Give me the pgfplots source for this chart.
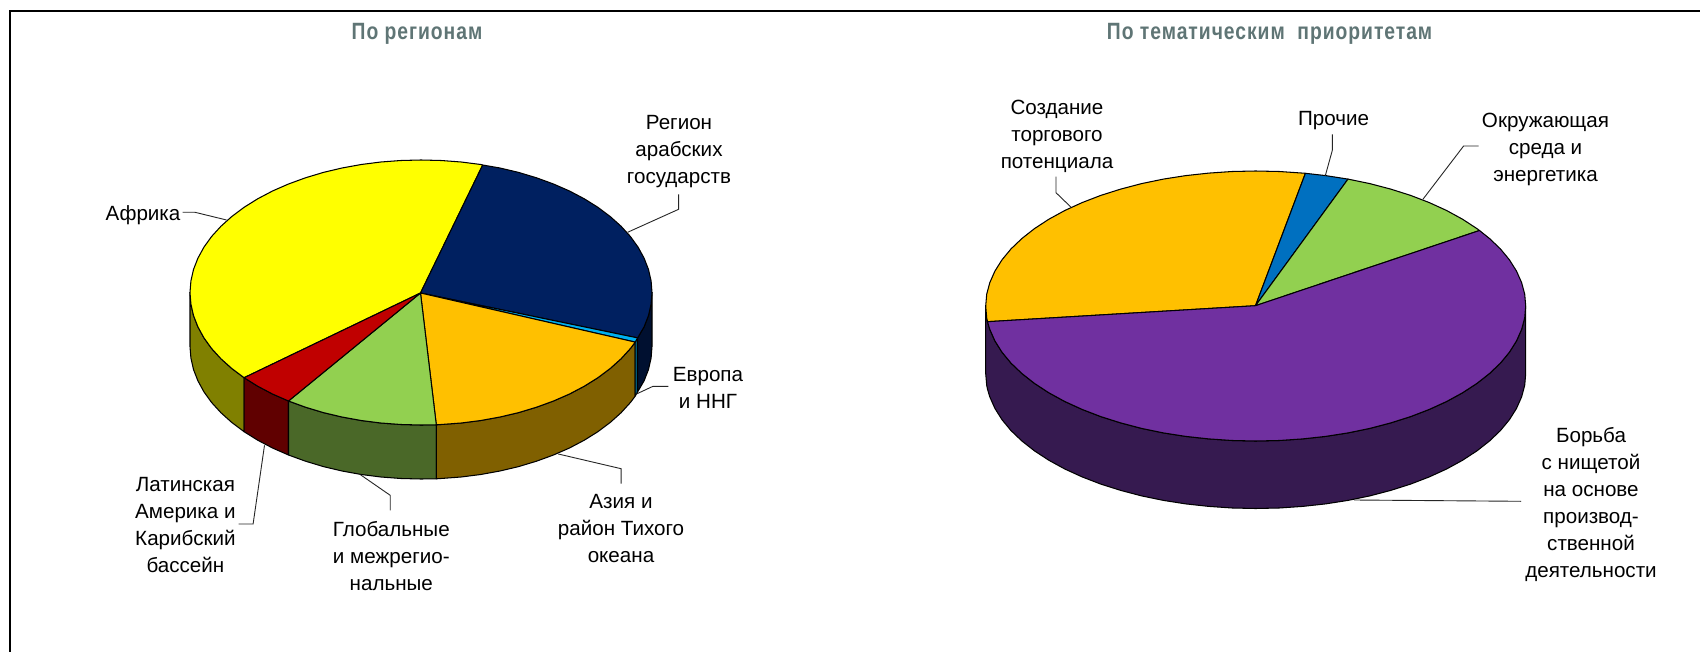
\documentclass[border=0pt]{standalone}
\usepackage{pgfplots}
\pgfplotsset{compat=1.18}
\usepackage{fontspec}
\setmainfont{Liberation Sans}
\newfontfamily\titlefont[LetterSpace=5]{Liberation Sans}
\definecolor{ttl}{HTML}{5F7575}
\definecolor{cYellow}{HTML}{FFFF00}
\definecolor{cNavy}{HTML}{002060}
\definecolor{cCyan}{HTML}{00B0F0}
\definecolor{cOrange}{HTML}{FFC000}
\definecolor{cGreen}{HTML}{92D050}
\definecolor{cRed}{HTML}{C00000}
\definecolor{cBlue}{HTML}{0070C0}
\definecolor{cPurple}{HTML}{7030A0}
\definecolor{dYellow}{HTML}{808000}
\definecolor{dNavy}{HTML}{001030}
\definecolor{dCyan}{HTML}{005878}
\definecolor{dOrange}{HTML}{806000}
\definecolor{dGreen}{HTML}{4A6828}
\definecolor{dRed}{HTML}{600000}
\definecolor{dPurple}{HTML}{361A50}
\tikzset{lbl/.style={font=\fontsize{20.6}{27}\selectfont,align=center,inner sep=0pt,anchor=center,text=black},
 ttlnode/.style={font=\titlefont\bfseries\fontsize{19.3}{23}\selectfont,text=ttl,inner sep=0pt,anchor=center}}
\pgfplotsset{slice/.style={fill=#1,draw=black,line width=1.05pt,line join=round,mark=none},
 lead/.style={draw=black!85,line width=0.9pt,mark=none}}
\begin{document}
\begin{tikzpicture}
\begin{axis}[name=a,scale only axis,width=1700pt,height=652pt,xmin=0,xmax=1700,ymin=0,ymax=652,y dir=reverse,hide axis,clip=false]
\addplot[fill=white,draw=none,mark=none] coordinates {(0,0)(1700,0)(1700,652)(0,652)} --cycle;
% frame
\addplot[black,line width=2.4pt,mark=none] coordinates {(10,652)(10,11)(1700,11)};
% left pie, sides
\addplot[slice=dYellow] coordinates {(190,292.5)(190.9,304)(193.5,315.5)(197.9,326.8)(203.9,337.8)(211.6,348.5)(220.9,358.7)(231.8,368.5)(244.1,377.7)(244.1,431.7)(231.8,422.5)(220.9,412.7)(211.6,402.5)(203.9,391.8)(197.9,380.8)(193.5,369.5)(190.9,358)(190,346.5)} --cycle;
\addplot[slice=dRed] coordinates {(244.1,377.7)(257.7,386.2)(272.5,394)(288.5,401)(288.5,455)(272.5,448)(257.7,440.2)(244.1,431.7)} --cycle;
\addplot[slice=dGreen] coordinates {(288.5,401)(305.5,407.2)(323.4,412.6)(342,417)(361.2,420.5)(380.9,423)(400.9,424.5)(421,425)(436.3,424.8)(436.3,478.8)(421,479)(400.9,478.5)(380.9,477)(361.2,474.5)(342,471)(323.4,466.6)(305.5,461.2)(288.5,455)} --cycle;
\addplot[slice=dOrange] coordinates {(436.3,424.8)(441.1,424.5)(461.1,423)(480.8,420.5)(500,417)(518.6,412.6)(536.5,407.2)(553.5,401)(569.5,394)(584.3,386.2)(597.9,377.7)(610.2,368.5)(621.1,358.7)(630.4,348.5)(635.2,342.1)(635.2,396.1)(630.4,402.5)(621.1,412.7)(610.2,422.5)(597.9,431.7)(584.3,440.2)(569.5,448)(553.5,455)(536.5,461.2)(518.6,466.6)(500,471)(480.8,474.5)(461.1,477)(441.1,478.5)(436.3,478.8)} --cycle;
\addplot[slice=dCyan] coordinates {(635.2,342.1)(637.6,337.9)(637.6,391.9)(635.2,396.1)} --cycle;
\addplot[slice=dNavy] coordinates {(637.6,337.9)(644.1,326.8)(648.5,315.5)(651.1,304)(652,292.5)(652,346.5)(651.1,358)(648.5,369.5)(644.1,380.8)(637.6,391.9)} --cycle;
% left pie, top
\addplot[slice=cYellow] coordinates {(420.5,293)(482.7,165)(480.8,164.5)(461.1,162)(441.1,160.5)(421,160)(400.9,160.5)(380.9,162)(361.2,164.5)(342,168)(323.4,172.4)(305.5,177.8)(288.5,184)(272.5,191)(257.7,198.8)(244.1,207.3)(231.8,216.5)(220.9,226.3)(211.6,236.5)(203.9,247.2)(197.9,258.2)(193.5,269.5)(190.9,281)(190,292.5)(190.9,304)(193.5,315.5)(197.9,326.8)(203.9,337.8)(211.6,348.5)(220.9,358.7)(231.8,368.5)(244.1,377.7)} --cycle;
\addplot[slice=cNavy] coordinates {(420.5,293)(482.7,165)(500,168)(518.6,172.4)(536.5,177.8)(553.5,184)(569.5,191)(584.3,198.8)(597.9,207.3)(610.2,216.5)(621.1,226.3)(630.4,236.5)(638.1,247.2)(644.1,258.2)(648.5,269.5)(651.1,281)(652,292.5)(651.1,304)(648.5,315.5)(644.1,326.8)(637.6,337.9)} --cycle;
\addplot[slice=cCyan] coordinates {(420.5,293)(637.6,337.9)(635.2,342.1)} --cycle;
\addplot[slice=cOrange] coordinates {(420.5,293)(635.2,342.1)(630.4,348.5)(621.1,358.7)(610.2,368.5)(597.9,377.7)(584.3,386.2)(569.5,394)(553.5,401)(536.5,407.2)(518.6,412.6)(500,417)(480.8,420.5)(461.1,423)(441.1,424.5)(436.3,424.8)} --cycle;
\addplot[slice=cGreen] coordinates {(420.5,293)(436.3,424.8)(421,425)(400.9,424.5)(380.9,423)(361.2,420.5)(342,417)(323.4,412.6)(305.5,407.2)(288.5,401)} --cycle;
\addplot[slice=cRed] coordinates {(420.5,293)(288.5,401)(272.5,394)(257.7,386.2)(244.1,377.7)} --cycle;
% right pie, side
\addplot[slice=dPurple] coordinates {(985.7,306)(986.7,317.8)(987.5,321.7)(989.8,329.4)(994.9,340.9)(1002,352.2)(1011,363.1)(1021.9,373.5)(1034.5,383.4)(1048.9,392.8)(1064.8,401.5)(1082.1,409.4)(1100.8,416.6)(1120.7,422.9)(1141.6,428.4)(1163.4,432.9)(1185.8,436.4)(1208.8,438.9)(1232.2,440.5)(1255.7,441)(1279.2,440.5)(1302.6,438.9)(1325.6,436.4)(1348,432.9)(1369.8,428.4)(1390.7,422.9)(1410.6,416.6)(1429.3,409.4)(1446.6,401.5)(1462.5,392.8)(1476.9,383.4)(1489.5,373.5)(1500.4,363.1)(1509.4,352.2)(1516.5,340.9)(1521.6,329.4)(1524.7,317.8)(1525.7,306)(1525.7,373.5)(1524.7,385.3)(1521.6,396.9)(1516.5,408.4)(1509.4,419.7)(1500.4,430.6)(1489.5,441)(1476.9,450.9)(1462.5,460.3)(1446.6,469)(1429.3,476.9)(1410.6,484.1)(1390.7,490.4)(1369.8,495.9)(1348,500.4)(1325.6,503.9)(1302.6,506.4)(1279.2,508)(1255.7,508.5)(1232.2,508)(1208.8,506.4)(1185.8,503.9)(1163.4,500.4)(1141.6,495.9)(1120.7,490.4)(1100.8,484.1)(1082.1,476.9)(1064.8,469)(1048.9,460.3)(1034.5,450.9)(1021.9,441)(1011,430.6)(1002,419.7)(994.9,408.4)(989.8,396.9)(987.5,389.2)(986.7,385.3)(985.7,373.5)} --cycle;
% right pie, top
\addplot[slice=cOrange] coordinates {(1255.5,305.7)(1305.4,173.3)(1302.6,173.1)(1279.2,171.5)(1255.7,171)(1232.2,171.5)(1208.8,173.1)(1185.8,175.6)(1163.4,179.1)(1141.6,183.6)(1120.7,189.1)(1100.8,195.4)(1082.1,202.6)(1064.8,210.5)(1048.9,219.2)(1034.5,228.6)(1021.9,238.5)(1011,248.9)(1002,259.8)(994.9,271.1)(989.8,282.6)(986.7,294.2)(985.7,306)(986.7,317.8)(987.5,321.7)} --cycle;
\addplot[slice=cBlue] coordinates {(1255.5,305.7)(1348,179.1)(1325.6,175.6)(1305.4,173.3)} --cycle;
\addplot[slice=cGreen] coordinates {(1255.5,305.7)(1479.5,230.5)(1476.9,228.6)(1462.5,219.2)(1446.6,210.5)(1429.3,202.6)(1410.6,195.4)(1390.7,189.1)(1369.8,183.6)(1348,179.1)} --cycle;
\addplot[slice=cPurple] coordinates {(1255.5,305.7)(987.5,321.7)(989.8,329.4)(994.9,340.9)(1002,352.2)(1011,363.1)(1021.9,373.5)(1034.5,383.4)(1048.9,392.8)(1064.8,401.5)(1082.1,409.4)(1100.8,416.6)(1120.7,422.9)(1141.6,428.4)(1163.4,432.9)(1185.8,436.4)(1208.8,438.9)(1232.2,440.5)(1255.7,441)(1279.2,440.5)(1302.6,438.9)(1325.6,436.4)(1348,432.9)(1369.8,428.4)(1390.7,422.9)(1410.6,416.6)(1429.3,409.4)(1446.6,401.5)(1462.5,392.8)(1476.9,383.4)(1489.5,373.5)(1500.4,363.1)(1509.4,352.2)(1516.5,340.9)(1521.6,329.4)(1524.7,317.8)(1525.7,306)(1524.7,294.2)(1521.6,282.6)(1516.5,271.1)(1509.4,259.8)(1500.4,248.9)(1489.5,238.5)(1479.5,230.5)} --cycle;
% leader lines
\addplot[lead] coordinates {(182.7,212.3)(195,212.3)(226.6,220)};
\addplot[lead] coordinates {(678.6,194.3)(678.6,209.3)(627.6,232.3)};
\addplot[lead] coordinates {(668.3,386.3)(653,386.3)(635.8,394.3)};
\addplot[lead] coordinates {(621.1,483.7)(621.1,468.7)(558.3,454)};
\addplot[lead] coordinates {(390.2,510.3)(390.2,495.3)(360.4,474.7)};
\addplot[lead] coordinates {(238.5,524)(253.1,524)(264.5,445.3)};
\addplot[lead] coordinates {(1056,176.7)(1056,192.7)(1071.1,207.3)};
\addplot[lead] coordinates {(1332.4,134.3)(1332.4,150)(1325.3,175.7)};
\addplot[lead] coordinates {(1478.7,146)(1463.6,146)(1422.9,199.3)};
\addplot[lead] coordinates {(1521,501.3)(1354,500)};
% text
\node[ttlnode] at (axis cs:417,33.5) {\scalebox{1}[1.22]{По регионам}};
\node[ttlnode] at (axis cs:1269.6,33.5) {\scalebox{1}[1.22]{По тематическим\ \ приоритетам}};
\node[lbl] at (axis cs:679,152) {Регион\\арабских\\государств};
\node[lbl] at (axis cs:143,215) {Африка};
\node[lbl] at (axis cs:708,387.7) {Европа\\и ННГ};
\node[lbl] at (axis cs:621,528.3) {Азия и\\район Тихого\\океана};
\node[lbl] at (axis cs:391.3,556) {Глобальные\\и межрегио-\\нальные};
\node[lbl] at (axis cs:185.4,524.8) {Латинская\\Америка и\\Карибский\\бассейн};
\node[lbl] at (axis cs:1057,136.7) {Создание\\торгового\\потенциала};
\node[lbl] at (axis cs:1333.5,121) {Прочие};
\node[lbl] at (axis cs:1545.5,149.3) {Окружающая\\среда и\\энергетика};
\node[lbl] at (axis cs:1591,504) {Борьба\\с нищетой\\на основе\\производ-\\ственной\\деятельности};
\end{axis}
\pgfresetboundingbox
\path (a.south west) rectangle (a.north east);
\end{tikzpicture}
\end{document}
